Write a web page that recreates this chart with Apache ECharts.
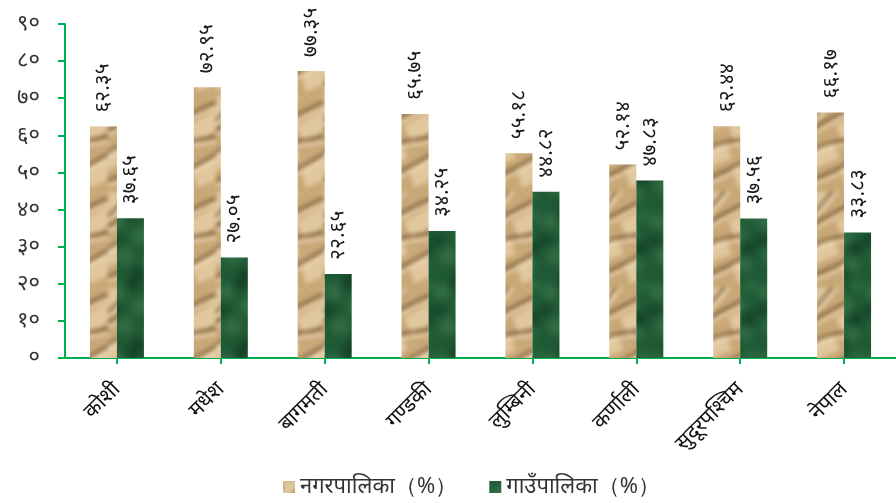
<!DOCTYPE html>
<html>
<head>
<meta charset="utf-8">
<script src="https://cdn.jsdelivr.net/npm/echarts@6/dist/echarts.min.js"></script>
<style>
html,body{margin:0;padding:0;background:#fff;}
#chart{width:896px;height:503px;}
</style>
</head>
<body>
<div id="chart"></div>
<script>
// ---- data ----
var categories = ['कोशी', 'मधेश', 'बागमती', 'गण्डकी', 'लुम्बिनी', 'कर्णाली', 'सुदूरपश्चिम', 'नेपाल'];
var seriesNames = ['नगरपालिका（%）', 'गाउँपालिका（%）'];
var nagarpalika = [62.35, 72.95, 77.35, 65.75, 55.18, 52.14, 62.44, 66.17];
var gaunpalika = [37.65, 27.05, 22.65, 34.25, 44.82, 47.83, 37.56, 33.83];
var yTicks = [0, 10, 20, 30, 40, 50, 60, 70, 80, 90];

var devDigits = '०१२३४५६७८९';
function toDev(s) {
  return String(s).replace(/[0-9]/g, function (d) { return devDigits[+d]; });
}

// ---- seamless textures (style only) ----
function seamless(W, H, base, blur, drawFn) {
  var big = document.createElement('canvas');
  big.width = W * 3; big.height = H * 3;
  var b = big.getContext('2d');
  b.fillStyle = base; b.fillRect(0, 0, W * 3, H * 3);
  var tmp = document.createElement('canvas');
  tmp.width = W * 3; tmp.height = H * 3;
  var t = tmp.getContext('2d');
  for (var i = 0; i < 3; i++) for (var j = 0; j < 3; j++) {
    t.save(); t.translate(i * W, j * H); drawFn(t); t.restore();
  }
  b.filter = 'blur(' + blur + 'px)';
  b.drawImage(tmp, 0, 0);
  b.filter = 'none';
  var c = document.createElement('canvas');
  c.width = W; c.height = H;
  c.getContext('2d').drawImage(big, W, H, W, H, 0, 0, W, H);
  return c;
}
function drawTan(g) {
  var light = [[[0, 0], [30, 0], [10, 22], [0, 26]], [[26, 30], [54, 14], [54, 34], [34, 48]],
               [[0, 52], [22, 44], [30, 62], [0, 74]], [[30, 70], [54, 60], [54, 84], [36, 92]]];
  light.forEach(function (p) {
    g.beginPath(); g.moveTo(p[0][0], p[0][1]);
    for (var i = 1; i < p.length; i++) g.lineTo(p[i][0], p[i][1]);
    g.closePath(); g.fillStyle = 'rgba(234,212,172,0.7)'; g.fill();
  });
  var creases = [[[54, 6], [30, 16], [8, 30], [0, 34]], [[54, 40], [36, 46], [20, 42], [0, 56]],
                 [[54, 58], [40, 66], [22, 78], [0, 84]], [[22, 0], [14, 10], [6, 20], [0, 24]]];
  creases.forEach(function (s) {
    g.beginPath(); g.moveTo(s[0][0], s[0][1]);
    g.bezierCurveTo(s[1][0], s[1][1], s[2][0], s[2][1], s[3][0], s[3][1]);
    g.strokeStyle = 'rgba(105,72,38,0.7)'; g.lineWidth = 3.5; g.stroke();
    g.beginPath(); g.moveTo(s[0][0], s[0][1] + 5);
    g.bezierCurveTo(s[1][0], s[1][1] + 5, s[2][0], s[2][1] + 5, s[3][0], s[3][1] + 5);
    g.strokeStyle = 'rgba(245,228,196,0.7)'; g.lineWidth = 3; g.stroke();
  });
}
function drawGreen(g) {
  var spots = [[10, 12, 8, 'rgba(70,130,90,0.55)'], [34, 26, 10, 'rgba(70,130,90,0.5)'],
               [48, 6, 6, 'rgba(70,130,90,0.45)'], [16, 46, 9, 'rgba(70,130,90,0.5)'],
               [42, 54, 8, 'rgba(70,130,90,0.45)'], [24, 4, 6, 'rgba(12,45,24,0.6)'],
               [46, 38, 7, 'rgba(12,45,24,0.6)'], [6, 30, 6, 'rgba(12,45,24,0.55)'],
               [30, 64, 7, 'rgba(12,45,24,0.55)']];
  spots.forEach(function (p) {
    g.beginPath(); g.arc(p[0], p[1], p[2], 0, Math.PI * 2);
    g.fillStyle = p[3]; g.fill();
  });
}
var tanPattern = { image: seamless(54, 96, '#c9a878', 2, drawTan), repeat: 'repeat' };
var greenPattern = { image: seamless(54, 70, '#1f5a34', 4, drawGreen), repeat: 'repeat' };

var FONT = "'Noto Sans', 'DejaVu Sans', sans-serif";
var axisGreen = '#00b050';

var chart = echarts.init(document.getElementById('chart'));

function labelCfg() {
  return {
    show: true,
    position: 'top',
    rotate: 90,
    align: 'left',
    verticalAlign: 'middle',
    distance: 14,
    color: '#1a1a1a',
    fontSize: 21,
    fontFamily: FONT,
    formatter: function (p) { return toDev(p.value.toFixed(2)); }
  };
}

chart.setOption({
  animation: false,
  backgroundColor: '#ffffff',
  grid: { left: 65, right: -6, top: 24, bottom: 145, containLabel: false },
  legend: {
    bottom: 0,
    left: 278,
    itemWidth: 12,
    itemHeight: 12,
    itemGap: 32,
    icon: 'rect',
    textStyle: { fontSize: 22, color: '#333', fontFamily: FONT },
    data: seriesNames
  },
  xAxis: {
    type: 'category',
    data: categories,
    axisLine: { lineStyle: { color: axisGreen, width: 2 } },
    axisTick: { show: true, alignWithLabel: true, length: 6, lineStyle: { color: axisGreen, width: 2 } },
    axisLabel: { rotate: 45, margin: 28, fontSize: 21, color: '#111', fontFamily: FONT, interval: 0 }
  },
  yAxis: {
    type: 'value',
    min: yTicks[0],
    max: yTicks[yTicks.length - 1],
    interval: 10,
    splitLine: { show: false },
    axisLine: { show: true, lineStyle: { color: axisGreen, width: 2 } },
    axisTick: { show: true, length: 7, lineStyle: { color: axisGreen, width: 2 } },
    axisLabel: { margin: 25, fontSize: 22, color: '#333', fontFamily: FONT,
      formatter: function (v) { return toDev(v); } }
  },
  series: [
    {
      name: seriesNames[0], type: 'bar', data: nagarpalika,
      barWidth: 27, barGap: '0%',
      itemStyle: { color: tanPattern },
      label: labelCfg()
    },
    {
      name: seriesNames[1], type: 'bar', data: gaunpalika,
      barWidth: 27, barGap: '0%',
      itemStyle: { color: greenPattern },
      label: labelCfg()
    }
  ]
});
</script>
</body>
</html>
